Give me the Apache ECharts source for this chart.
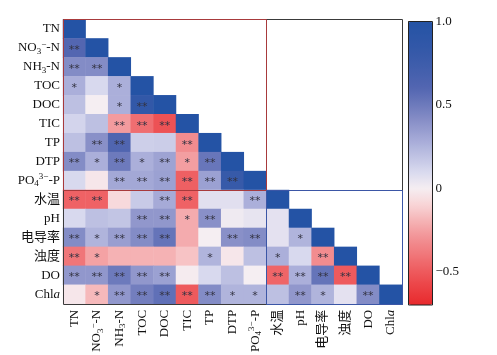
<!DOCTYPE html>
<html><head><meta charset="utf-8">
<script src="https://cdn.jsdelivr.net/npm/echarts@6/dist/echarts.min.js"></script>
<style>html,body{margin:0;padding:0;background:#fff}#c{width:497px;height:355px}</style>
</head><body><div id="c"></div>
<script>
// variable names (rich-text labels)
const variables = ['TN','NO3-N','NH3-N','TOC','DOC','TIC','TP','DTP','PO4-P','水温','pH','电导率','浊度','DO','Chla'];
const varLabels = ['TN','NO{sub|3}{sup|−}-N','NH{sub|3}-N','TOC','DOC','TIC','TP','DTP','PO{sub|4}{sup|3−}-P','水温','pH','电导率','浊度','DO','Chl{it|a}'];
// lower-triangular correlation matrix (row i, columns 0..i)
const corrRows = [
  [1],
  [0.60, 1],
  [0.42, 0.42, 1],
  [0.27, 0.10, 0.27, 1],
  [0.20, 0.00, 0.27, 0.85, 1],
  [0.12, 0.20, -0.27, -0.43, -0.53, 1],
  [0.20, 0.40, 0.62, 0.14, 0.15, -0.32, 1],
  [0.42, 0.27, 0.50, 0.27, 0.32, -0.26, 0.52, 1],
  [0.10, -0.03, 0.30, 0.30, 0.33, -0.48, 0.33, 0.80, 1],
  [-0.47, -0.47, -0.08, 0.16, 0.29, -0.47, 0.07, 0.07, 0.27, 1],
  [0.10, 0.20, 0.18, 0.37, 0.37, -0.22, 0.40, 0.02, 0.05, 0.06, 1],
  [0.42, 0.25, 0.34, 0.42, 0.53, -0.22, 0.00, 0.40, 0.42, 0.06, 0.25, 1],
  [-0.40, -0.25, -0.20, -0.20, -0.20, -0.15, 0.25, -0.03, 0.20, 0.27, 0.10, -0.32, 1],
  [0.37, 0.37, 0.50, 0.37, 0.33, -0.01, 0.10, 0.20, 0.00, -0.46, 0.27, 0.53, -0.50, 1],
  [-0.03, -0.18, 0.37, 0.48, 0.55, -0.50, 0.42, 0.25, 0.25, 0.20, 0.37, 0.25, 0.06, 0.42, 1]
];
// significance marks
const sigRows = [
  [''],
  ['**',''],
  ['**','**',''],
  ['*','','*',''],
  ['','','*','**',''],
  ['','','**','**','**',''],
  ['','**','**','','','**',''],
  ['**','*','**','*','**','*','**',''],
  ['','','**','**','**','**','**','**',''],
  ['**','**','','','**','**','','','**',''],
  ['','','','**','**','*','**','','','',''],
  ['**','*','**','**','**','','','**','**','','*',''],
  ['**','*','','','','','*','','','*','','**',''],
  ['**','**','**','**','**','','','','','**','**','**','**',''],
  ['','*','**','**','**','**','**','*','*','','**','*','','**','']
];
const colorbarTicks = [1.0, 0.5, 0, -0.5];
const colorMin = -0.7, colorMax = 1.0;
const splitIndex = 9; // first index of the second variable group

const palette = ['#E8292C','#EB4043','#EE5A5D','#F07679','#F29194','#F5B2B4','#F8D4D6','#F5EEF2',
  '#D8D9EE','#BDC0E2','#A3A8D6','#8990C8','#6D7ABC','#5366B1','#4460AD','#375AA9','#2D56A7','#2453A5'];

const data = [];
corrRows.forEach((row, i) => row.forEach((v, j) => data.push([j, i, v, sigRows[i][j]])));

const serif = "'Liberation Serif','Times New Roman','Noto Sans CJK SC',serif";
const rich = {
  sub: {fontSize: 9, fontFamily: serif, padding: [7,0,0,0], color: '#111'},
  sup: {fontSize: 9, fontFamily: serif, padding: [0,0,7,0], color: '#111'},
  it: {fontSize: 13, fontFamily: serif, fontStyle: 'italic', color: '#111'}
};

const chart = echarts.init(document.getElementById('c'), null, {renderer: 'canvas'});
const option = {
  animation: false,
  backgroundColor: '#fff',
  grid: [
    {left: 63, top: 19.5, width: 339, height: 286.5},
    {left: 408.5, top: 21.5, width: 24, height: 283.5, show: true, borderColor: '#222', borderWidth: 1, z: 10}
  ],
  xAxis: [
    {type: 'category', gridIndex: 0, data: varLabels, axisLine: {show: false}, axisTick: {show: false},
     splitLine: {show: false},
     axisLabel: {rotate: 90, margin: 6, fontSize: 13, fontFamily: serif, color: '#111', interval: 0, rich: rich}},
    {type: 'value', gridIndex: 1, show: false}
  ],
  yAxis: [
    {type: 'category', gridIndex: 0, data: varLabels, inverse: true, axisLine: {show: false}, axisTick: {show: false},
     splitLine: {show: false},
     axisLabel: {margin: 3, fontSize: 13, fontFamily: serif, color: '#111', interval: 0, rich: rich}},
    {type: 'value', gridIndex: 1, min: colorMin, max: colorMax, position: 'right',
     axisLine: {show: false}, splitLine: {show: false},
     axisTick: {show: true, length: 4, inside: false, customValues: colorbarTicks, lineStyle: {color: '#222'}},
     axisLabel: {show: true, margin: 3, fontSize: 13, fontFamily: serif, color: '#111', customValues: colorbarTicks,
       formatter: v => v === 0 ? '0' : (v < 0 ? '−' + Math.abs(v).toFixed(1) : v.toFixed(1))}},
    {type: 'value', gridIndex: 1, min: colorMin, max: colorMax, position: 'left',
     axisLine: {show: false}, splitLine: {show: false},
     axisTick: {show: true, length: 4, inside: true, customValues: colorbarTicks.filter(v => v < 1), lineStyle: {color: '#222'}},
     axisLabel: {show: false}}
  ],
  visualMap: {
    type: 'continuous', min: colorMin, max: colorMax, dimension: 2, seriesIndex: 0,
    calculable: false, orient: 'vertical', left: 408.5, top: 21.5, itemWidth: 24, itemHeight: 283.5,
    padding: 0, text: null, z: 1, hoverLink: false,
    inRange: {color: palette}
  },
  series: [{
    type: 'heatmap', xAxisIndex: 0, yAxisIndex: 0, data: data,
    itemStyle: {borderWidth: 0},
    label: {show: true, formatter: p => p.data[3], fontSize: 11, fontFamily: "'DejaVu Sans',sans-serif",
      color: '#333342', offset: [0, 2]},
    emphasis: {disabled: true}
  }]
};
chart.setOption(option);

// frames drawn from the axis scales
const c0 = chart.convertToPixel({gridIndex: 0}, [0, 0]);
const c1 = chart.convertToPixel({gridIndex: 0}, [1, 1]);
const cw = c1[0] - c0[0], ch = c1[1] - c0[1];
const n = variables.length;
const edge = (col, row) => [Math.round(c0[0] + (col - 0.5) * cw) + 0.5, Math.round(c0[1] + (row - 0.5) * ch) + 0.5];
function frame(colA, rowA, colB, rowB, color) {
  const a = edge(colA, rowA), b = edge(colB, rowB);
  return {type: 'rect', shape: {x: a[0], y: a[1], width: b[0] - a[0], height: b[1] - a[1]},
    style: {fill: null, stroke: color, lineWidth: 1}, z: 100};
}
chart.setOption({graphic: [
  frame(0, 0, n, n, '#3a3a3a'),
  frame(0, 0, splitIndex, splitIndex, '#A83A3C'),
  frame(splitIndex, splitIndex, n, n, '#3B56A6')
]});
</script></body></html>
